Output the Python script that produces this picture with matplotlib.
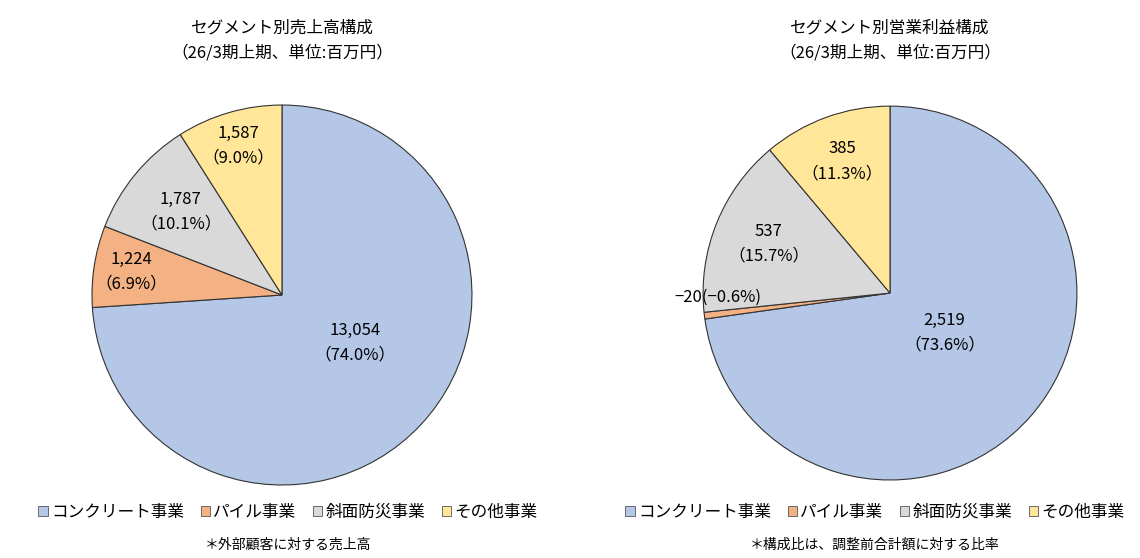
import numpy as np
import matplotlib
matplotlib.use("Agg")
import matplotlib.pyplot as plt
from matplotlib.patches import Patch

plt.rcParams['font.family'] = ['Noto Sans CJK JP', 'DejaVu Sans']

segments = ["コンクリート事業", "パイル事業", "斜面防災事業", "その他事業"]
colors = ["#B4C7E7", "#F4B183", "#D9D9D9", "#FFE699"]

sales = [13054, 1224, 1787, 1587]
sales_pct = [74.0, 6.9, 10.1, 9.0]

profit = [2519, -20, 537, 385]
profit_pct = [73.6, -0.6, 15.7, 11.3]

title_left = "セグメント別売上高構成\n（26/3期上期、単位:百万円）"
title_right = "セグメント別営業利益構成\n（26/3期上期、単位:百万円）"
note_left = "＊外部顧客に対する売上高"
note_right = "＊構成比は、調整前合計額に対する比率"

fig = plt.figure(figsize=(11.4, 5.58), dpi=100)


def draw_pie(rect, vals, pcts, spots, one_line):
    ax = fig.add_axes(rect)
    sizes = [abs(v) for v in vals]
    wedges, _ = ax.pie(sizes, colors=colors, startangle=90, counterclock=False,
                       radius=1.0,
                       wedgeprops=dict(edgecolor="#333333", linewidth=0.8))
    for w, v, p, (d, a), ol in zip(wedges, vals, pcts, spots, one_line):
        mid = (w.theta1 + w.theta2) / 2 if a is None else a
        ang = np.deg2rad(mid)
        x, y = d * np.cos(ang), d * np.sin(ang)
        if ol:
            txt = f"{v:,}".replace("-", "−") + f"(−{abs(p):.1f}%)"
        else:
            txt = f"{v:,}\n（{p:.1f}%）"
        ax.text(x, y, txt, ha="center", va="center", fontsize=12,
                linespacing=1.6)
    ax.set_xlim(-1, 1)
    ax.set_ylim(-1, 1)
    ax.set_aspect("equal")
    ax.axis("off")
    return ax


draw_pie([0.0807, 0.1308, 0.3333, 0.681], sales, sales_pct,
         [(0.46, -33), (0.80, None), (0.69, None), (0.82, None)], [False] * 4)
draw_pie([0.6167, 0.1398, 0.328, 0.670], profit, profit_pct,
         [(0.36, -36), (0.92, 181.5), (0.70, None), (0.75, None)],
         [False, True, False, False])

fig.text(0.2474, 0.927, title_left, ha="center", va="center", fontsize=12,
         linespacing=1.6)
fig.text(0.7807, 0.927, title_right, ha="center", va="center", fontsize=12,
         linespacing=1.6)

handles = [Patch(facecolor=c, edgecolor="#555555", linewidth=0.6) for c in colors]
for cx in [0.2526, 0.7675]:
    fig.legend(handles, segments, loc="center", bbox_to_anchor=(cx, 0.0824),
               ncol=4, frameon=False, fontsize=12, handlelength=0.55,
               handleheight=0.55, handletextpad=0.2, columnspacing=1.0)

fig.text(0.2526, 0.023, note_left, ha="center", va="center", fontsize=10)
fig.text(0.7675, 0.023, note_right, ha="center", va="center", fontsize=10)

fig.savefig("out.png", dpi=100)
